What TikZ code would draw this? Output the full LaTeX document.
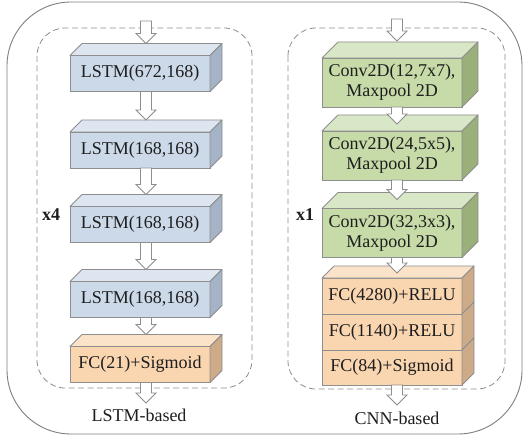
\documentclass[tikz,border=0pt]{standalone}
\usepackage{fontspec}
\setmainfont{Liberation Serif}
\usetikzlibrary{calc}
\definecolor{lstmF}{HTML}{CCD9E9}
\definecolor{lstmT}{HTML}{DCE5F0}
\definecolor{lstmS}{HTML}{A4B3C6}
\definecolor{convF}{HTML}{C6DBA8}
\definecolor{convT}{HTML}{D8E7C5}
\definecolor{convS}{HTML}{9AAF7A}
\definecolor{fcF}{HTML}{F9D5B0}
\definecolor{fcT}{HTML}{FBE3CA}
\definecolor{fcS}{HTML}{CDAB88}
\definecolor{edgeC}{HTML}{8E8E8E}
\definecolor{txtC}{HTML}{1E1E1E}
\definecolor{frameC}{HTML}{7F7F7F}
\tikzset{
  blk/.style={draw=edgeC, line width=0.8pt, inner sep=0pt, outer sep=0pt,
    text=txtC, align=center, font=\fontsize{18}{20}\selectfont},
  edgeline/.style={draw=edgeC, line width=0.8pt, line join=round},
  hollowarrow/.style={draw=edgeC, fill=white, line width=0.8pt, line join=miter},
  outerframe/.style={draw=frameC, line width=0.9pt, rounded corners=64pt},
  dashframe/.style={draw=edgeC, line width=0.8pt, dash pattern=on 6pt off 3.5pt, rounded corners=28pt},
  lbl/.style={text=txtC, inner sep=0pt, font=\fontsize{18}{20}\selectfont}
}
% name, cx, cy, w, h, depth, palette, text, top face (1/0)
\newcommand{\cubeblk}[9]{%
  \node[blk, minimum width=#4pt, minimum height=#5pt, fill=#7F] (#1) at (#2,#3) {#8};
  \ifnum#9=1 \filldraw[edgeline, fill=#7T] (#1.north west) -- ++(#6,-#6) -- ++(#4,0) -- (#1.north east) -- cycle;\fi
  \filldraw[edgeline, fill=#7S] (#1.north east) -- ++(#6,-#6) -- ++(0,#5) -- (#1.south east) -- cycle;
}
\newcommand{\harrow}[2]{%
  \draw[hollowarrow] ($(#1)+(-5.5,0)$) -- ($(#2)+(-5.5,-10)$) -- ($(#2)+(-10,-10)$) -- (#2)
    -- ($(#2)+(10,-10)$) -- ($(#2)+(5.5,-10)$) -- ($(#1)+(5.5,0)$) -- cycle;
}
\begin{document}
\begin{tikzpicture}[x=1pt,y=-1pt]
\useasboundingbox (0,0) rectangle (524,438);
\fill[white] (0,0) rectangle (524,438);
\draw[outerframe] (7,2) rectangle (522,434);
\draw[dashframe] (37,28) rectangle (252,388);
\draw[dashframe] (288,28) rectangle (505,389);

% LSTM column
\cubeblk{l1}{140}{73.5}{140}{36}{12}{lstm}{LSTM(672,168)}{1}
\cubeblk{l2}{140}{150}{140}{36}{12}{lstm}{LSTM(168,168)}{1}
\cubeblk{l3}{140}{224.5}{140}{36}{12}{lstm}{LSTM(168,168)}{1}
\cubeblk{l4}{140}{299.5}{140}{36}{12}{lstm}{LSTM(168,168)}{1}
\cubeblk{l5}{140}{364.5}{140}{36}{12}{fc}{FC(21)+Sigmoid}{1}

% CNN column
\cubeblk{c1}{392}{82.5}{140}{49}{16}{conv}{Conv2D(12,7x7),\\Maxpool 2D}{1}
\cubeblk{c2}{392}{155.5}{140}{49}{16}{conv}{Conv2D(24,5x5),\\Maxpool 2D}{1}
\cubeblk{c3}{392}{233}{140}{49}{16}{conv}{Conv2D(32,3x3),\\Maxpool 2D}{1}
\cubeblk{f1}{392}{296}{140}{36}{12}{fc}{FC(4280)+RELU}{1}
\cubeblk{f2}{392}{332}{140}{36}{12}{fc}{FC(1140)+RELU}{0}
\cubeblk{f3}{392}{367.5}{140}{35}{12}{fc}{FC(84)+Sigmoid}{0}

% arrow end points
\coordinate (inL) at (146,21);
\coordinate (l1t) at ($(l1.north)+(6,-12)$);
\coordinate (l1b) at ($(l1.south)+(6,0)$);
\coordinate (l2t) at ($(l2.north)+(6,-12)$);
\coordinate (l2b) at ($(l2.south)+(6,0)$);
\coordinate (l3t) at ($(l3.north)+(6,-12)$);
\coordinate (l3b) at ($(l3.south)+(6,0)$);
\coordinate (l4t) at ($(l4.north)+(6,-12)$);
\coordinate (l4b) at ($(l4.south)+(6,0)$);
\coordinate (l5t) at ($(l5.north)+(6,-12)$);
\coordinate (l5b) at ($(l5.south)+(6,0)$);
\coordinate (outL) at (146,403);

\coordinate (inR) at (397,19);
\coordinate (c1t) at ($(c1.north)+(5,-17)$);
\coordinate (c1b) at ($(c1.south)+(5,0)$);
\coordinate (c2t) at ($(c2.north)+(5,-7)$);
\coordinate (c2b) at ($(c2.south)+(5,0)$);
\coordinate (c3t) at ($(c3.north)+(5,-9)$);
\coordinate (c3b) at ($(c3.south)+(5,0)$);
\coordinate (f1t) at ($(f1.north)+(5,-5)$);
\coordinate (f3b) at ($(f3.south)+(5,0)$);
\coordinate (outR) at (397,405);

\harrow{inL}{l1t}
\harrow{l1b}{l2t}
\harrow{l2b}{l3t}
\harrow{l3b}{l4t}
\harrow{l4b}{l5t}
\harrow{l5b}{outL}
\harrow{inR}{c1t}
\harrow{c1b}{c2t}
\harrow{c2b}{c3t}
\harrow{c3b}{f1t}
\harrow{f3b}{outR}

\node[lbl] (x4) at (51,215) {\textbf{x4}};
\node[lbl] (x1) at (305,215) {\textbf{x1}};
\node[lbl] (lb) at (139,415) {LSTM-based};
\node[lbl] (cb) at (397,418) {CNN-based};
\end{tikzpicture}
\end{document}
